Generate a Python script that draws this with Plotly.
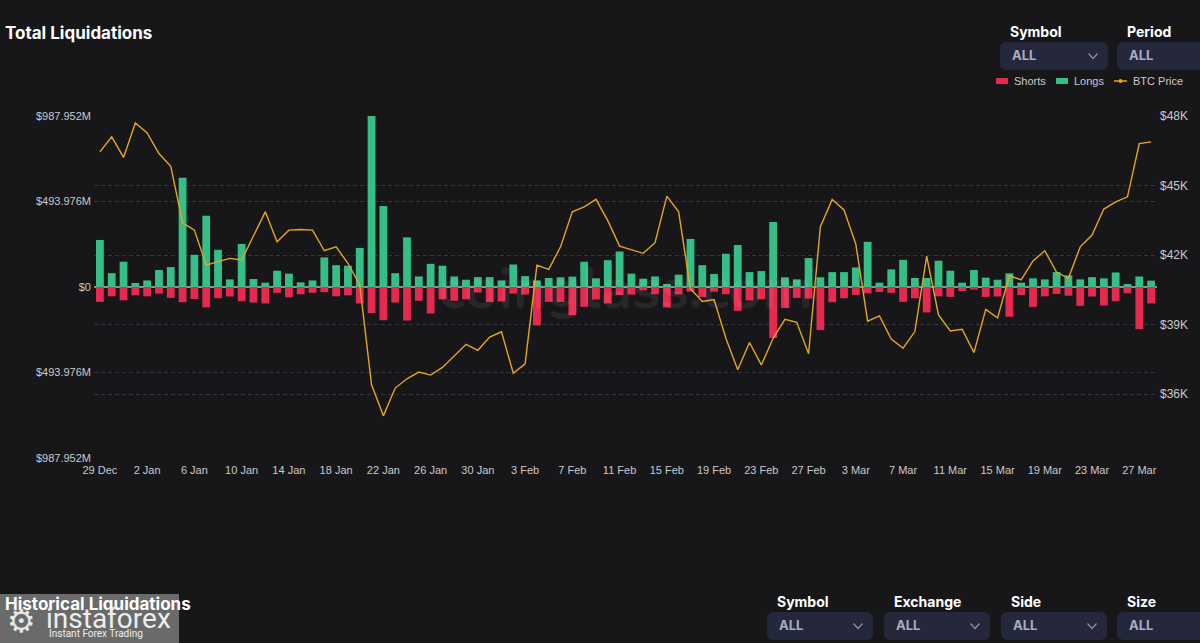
import plotly.graph_objects as go
import pandas as pd

# ---------------- data ----------------
dates = pd.date_range("2021-12-29", periods=90, freq="D")
categories = [f"{d.day} {d.strftime('%b')}" for d in dates]
tick_labels = categories[::4]

longs_m = [272, 80, 146, 23, 38, 98, 115, 632, 186, 412,
           215, 44, 249, 46, 25, 94, 77, 27, 38, 171,
           126, 123, 226, 987.952, 468, 80, 287, 61, 134, 123,
           61, 42, 57, 57, 38, 130, 63, 38, 52, 56,
           60, 146, 50, 155, 205, 77, 48, 61, 17, 71,
           278, 126, 75, 192, 243, 86, 92, 376, 56, 44,
           167, 56, 86, 86, 113, 261, 25, 102, 157, 52,
           52, 152, 94, 25, 98, 54, 42, 79, 25, 50,
           44, 86, 67, 44, 57, 50, 84, 17, 61, 37]

shorts_m = [86, 54, 77, 48, 54, 38, 63, 88, 69, 118,
            65, 55, 82, 90, 95, 34, 59, 42, 34, 30,
            54, 48, 95, 151, 192, 90, 194, 80, 153, 71,
            80, 71, 32, 86, 84, 38, 44, 222, 86, 86,
            163, 115, 72, 95, 46, 44, 19, 42, 118, 42,
            27, 59, 27, 42, 138, 78, 71, 295, 121, 63,
            67, 249, 88, 65, 46, 36, 29, 34, 86, 65,
            147, 54, 57, 23, 15, 57, 55, 172, 46, 115,
            54, 40, 50, 109, 55, 107, 82, 36, 243, 95]

btc_price_k = [46.46, 47.11, 46.22, 47.71, 47.28, 46.39, 45.84, 43.40, 43.08, 41.57,
               41.72, 41.86, 41.79, 42.80, 43.87, 42.58, 43.08, 43.11, 43.08, 42.19,
               42.36, 41.65, 40.71, 36.40, 35.06, 36.26, 36.66, 36.95, 36.82, 37.15,
               37.66, 38.15, 37.89, 38.46, 38.69, 36.90, 37.31, 41.57, 41.39, 42.36,
               43.87, 44.09, 44.41, 43.49, 42.39, 42.22, 42.08, 42.54, 44.55, 43.87,
               40.55, 40.00, 40.08, 38.41, 37.05, 38.23, 37.26, 38.41, 39.23, 39.10,
               37.74, 43.23, 44.41, 43.95, 42.48, 39.15, 39.38, 38.38, 37.98, 38.70,
               41.96, 39.42, 38.73, 38.80, 37.79, 39.66, 39.29, 41.11, 40.93, 41.75,
               42.19, 41.26, 41.00, 42.36, 42.87, 43.99, 44.30, 44.52, 46.82, 46.89]

left_tickvals = [-987.952, -493.976, 0, 493.976, 987.952]
left_ticktext = ["$987.952M", "$493.976M", "$0", "$493.976M", "$987.952M"]
right_tickvals = [36, 39, 42, 45, 48]
right_ticktext = ["$36K", "$39K", "$42K", "$45K", "$48K"]

# ---------------- style ----------------
BG = "#17171a"
GREEN = "#35bf87"
RED = "#e6294e"
GOLD = "#e3a622"
GRID = "#36373c"
TXT = "#c9c9cc"
BOX = "#25273a"

W, H = 1200, 643
L, R, T, B = 94, 43, 116, 185
PW = W - L - R
PH = H - T - B
BOT = H - B


def X(px):
    return (px - L) / PW


def Y(py):
    return (BOT - py) / PH


fig = go.Figure()
fig.add_trace(go.Bar(x=categories, y=longs_m, name="Longs", marker_color=GREEN,
                     marker_line_width=0, width=0.66))
fig.add_trace(go.Bar(x=categories, y=[-v for v in shorts_m], name="Shorts",
                     marker_color=RED, marker_line_width=0, width=0.66))
fig.add_trace(go.Scatter(x=categories, y=btc_price_k, name="BTC Price", yaxis="y2",
                         mode="lines", line=dict(color=GOLD, width=1.4)))

shapes = []
annotations = []


def rrect(x0, y0, x1, y1, r, color):
    # pixel coords, y0 top, y1 bottom
    rx, ry = r / PW, r / PH
    a, b, c, d = X(x0), Y(y1), X(x1), Y(y0)
    p = (f"M {a+rx},{b} L {c-rx},{b} Q {c},{b} {c},{b+ry} L {c},{d-ry} "
         f"Q {c},{d} {c-rx},{d} L {a+rx},{d} Q {a},{d} {a},{d-ry} L {a},{b+ry} "
         f"Q {a},{b} {a+rx},{b} Z")
    shapes.append(dict(type="path", path=p, xref="paper", yref="paper",
                       fillcolor=color, line=dict(width=0), layer="above"))


def chevron(cx, cy):
    p = f"M {X(cx-4.5)},{Y(cy-2.5)} L {X(cx)},{Y(cy+2.5)} L {X(cx+4.5)},{Y(cy-2.5)}"
    shapes.append(dict(type="path", path=p, xref="paper", yref="paper",
                       line=dict(color="#8d93a8", width=1.2), layer="above"))


def text(px, py, s, size, color, anchor="left", family="Inter", bold=False):
    annotations.append(dict(x=X(px), y=Y(py), xref="paper", yref="paper",
                            text=f"<b>{s}</b>" if bold else s, showarrow=False,
                            xanchor=anchor, yanchor="middle",
                            font=dict(size=size, color=color, family=family)))


# title
text(3, 33, "Total Liquidations", 17, "#ffffff", bold=True)

# top dropdowns
text(1008, 31, "Symbol", 14, "#ffffff", bold=True)
rrect(1000, 42, 1108, 70, 7, BOX)
text(1010, 55, "ALL", 13, "#a9aec2", bold=True)
chevron(1093, 56)
text(1125, 31, "Period", 14, "#ffffff", bold=True)
rrect(1117, 42, 1215, 70, 7, BOX)
text(1127, 55, "ALL", 13, "#a9aec2", bold=True)

# legend
shapes.append(dict(type="rect", xref="paper", yref="paper", x0=X(996), x1=X(1008),
                   y0=Y(84), y1=Y(78), fillcolor=RED, line=dict(width=0)))
text(1012, 81, "Shorts", 11, TXT, family="Liberation Sans")
shapes.append(dict(type="rect", xref="paper", yref="paper", x0=X(1056), x1=X(1068),
                   y0=Y(84), y1=Y(78), fillcolor=GREEN, line=dict(width=0)))
text(1072, 81, "Longs", 11, TXT, family="Liberation Sans")
shapes.append(dict(type="line", xref="paper", yref="paper", x0=X(1114), x1=X(1127),
                   y0=Y(81), y1=Y(81), line=dict(color=GOLD, width=1.5)))
shapes.append(dict(type="circle", xref="paper", yref="paper", x0=X(1118.5), x1=X(1122.5),
                   y0=Y(83), y1=Y(79), fillcolor=GOLD, line=dict(width=0)))
text(1131, 81, "BTC Price", 11, TXT, family="Liberation Sans")

# watermark
annotations.append(dict(x=X(625), y=Y(288), xref="paper", yref="paper", text="<b>coinglass.com</b>",
                        showarrow=False, xanchor="center", yanchor="middle",
                        font=dict(size=58, color="rgba(255,255,255,0.07)", family="Nunito, Lato")))

# bottom section
text(3, 604, "Historical Liquidations", 17, "#ffffff", bold=True)
for lbl, x0 in [("Symbol", 767), ("Exchange", 884), ("Side", 1001), ("Size", 1117)]:
    text(x0 + 8, 601, lbl, 14, "#ffffff", bold=True)
    rrect(x0, 612, x0 + 106 if lbl != "Size" else 1215, 640, 7, BOX)
    text(x0 + 10, 625, "ALL", 13, "#a9aec2", bold=True)
    if lbl != "Size":
        chevron(x0 + 91, 626)

# instaforex badge
shapes.append(dict(type="rect", xref="paper", yref="paper", x0=X(0), x1=X(179),
                   y0=Y(643), y1=Y(594), fillcolor="rgba(128,128,128,0.80)",
                   line=dict(width=0), layer="above"))
text(5, 621, "⚙", 32, "#e6e6e6", family="DejaVu Sans")
text(44, 618, "instaforex", 28, "#eeeeee", family="Roboto")
text(47, 633, "Instant Forex Trading", 10, "#eeeeee", family="Roboto")

fig.update_layout(
    width=W, height=H,
    margin=dict(l=L, r=R, t=T, b=B, pad=0),
    paper_bgcolor=BG, plot_bgcolor=BG,
    barmode="overlay", bargap=0.34,
    showlegend=False,
    font=dict(family="Liberation Sans", color=TXT, size=11),
    shapes=shapes, annotations=annotations,
    xaxis=dict(type="category", tickmode="array", tickvals=tick_labels, ticktext=tick_labels,
               range=[-0.5, 89.5], showgrid=False, zeroline=False, showline=False,
               ticks="", tickfont=dict(size=11, color=TXT), ticklabelstandoff=4),
    yaxis=dict(range=[-988.5, 988.5], tickmode="array", tickvals=left_tickvals,
               ticktext=left_ticktext, showgrid=True, gridcolor=GRID, griddash="4px,3px",
               gridwidth=1, zeroline=True, zerolinecolor="#8f8f94", zerolinewidth=1.5,
               showline=False, ticks="", tickfont=dict(size=11, color=TXT), ticklabelstandoff=2),
    yaxis2=dict(range=[33.24, 48.01], overlaying="y", side="right", tickmode="array",
                tickvals=right_tickvals, ticktext=right_ticktext, showgrid=True,
                gridcolor=GRID, griddash="4px,3px", gridwidth=1, zeroline=False,
                showline=False, ticks="", tickfont=dict(size=12, color=TXT), ticklabelstandoff=2),
)

fig.write_html(
    "out.html",
    config={"displayModeBar": False},
    post_script="document.body.style.margin='0';document.body.style.padding='0';"
                "document.body.style.background='" + BG + "';"
                "document.documentElement.style.background='" + BG + "';"
                "document.body.style.overflow='hidden';",
)
